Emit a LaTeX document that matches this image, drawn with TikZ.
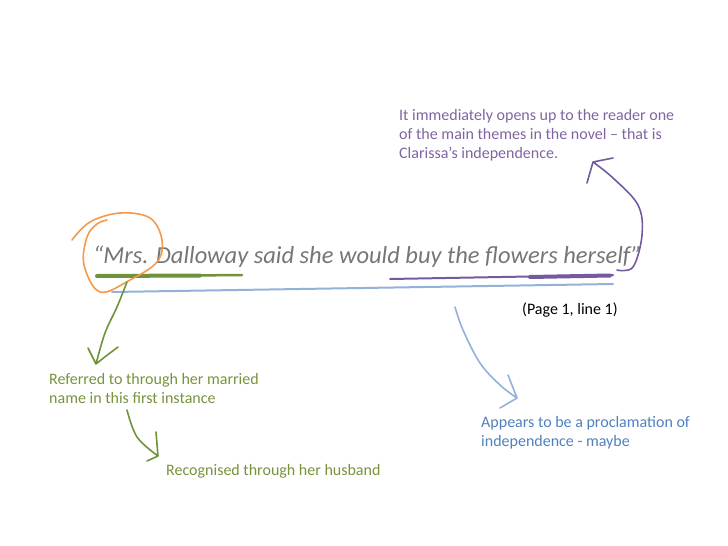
\documentclass[tikz,border=0pt]{standalone}
\usepackage{fontspec}
\setmainfont{Carlito}
\usepackage{xcolor}
\usepackage{tikz}
\definecolor{inkpurple}{RGB}{128,100,162}
\definecolor{penpurple}{RGB}{116,90,160}
\definecolor{inkgreen}{RGB}{119,147,60}
\definecolor{pengreen}{RGB}{112,146,58}
\definecolor{inkblue}{RGB}{79,129,189}
\definecolor{penblue}{RGB}{146,178,218}
\definecolor{penorange}{RGB}{244,154,76}
\definecolor{quotegray}{RGB}{118,118,118}
\tikzset{
  note/.style={
    inner sep=0pt,
    anchor=west,
    align=left,
    font=\fontsize{16}{19.2}\selectfont
  },
  quotetext/.style={
    inner sep=0pt,
    anchor=west,
    font=\fontsize{24.5}{29}\selectfont\itshape,
    text=quotegray
  },
  pen/.style={line width=1.6pt, line cap=round, line join=round},
  marker/.style={line width=4pt, line cap=round}
}

\begin{document}
\begin{tikzpicture}[x=1pt,y=-1pt]
\useasboundingbox (0,0) rectangle (728,546);
% the quotation and its markings
\node[quotetext] (quote) at (93,257) {“Mrs. Dalloway said she would buy the flowers herself”};
\draw[marker, pengreen] (97,276) -- (200,275.5);
\draw[pengreen, line width=2.5pt, line cap=round] (190,275.5) -- (242,275);
\draw[pen, penorange] plot[smooth, tension=0.6] coordinates {(72,240) (90,222) (120,213) (150,218) (162,240) (157,262) (130,280) (100,292) (84,265) (87,237) (97,224) (107,220)};
\draw[pen, penpurple, line width=2pt] (390,279) -- (613,275);
\draw[penpurple, line width=4pt, line cap=round] (530,277) -- (610,275.5);
\draw[pen, penblue, line width=2pt] (112,292) -- (613,284);
% notes
\node[note, text=inkpurple] (theme) at (399,135) {It immediately opens up to the reader one\\of the main themes in the novel -- that is\\Clarissa’s independence.};
\node[note] (page) at (522,310) {(Page 1, line 1)};
\node[note, text=inkgreen] (married) at (49,388.5) {Referred to through her married\\name in this first instance};
\node[note, text=inkgreen] (husband) at (166,471) {Recognised through her husband};
\node[note, text=inkblue] (proclaim) at (481,433) {Appears to be a proclamation of\\independence - maybe};
% hand drawn arrows
\coordinate (ptail) at (617,270);
\coordinate (ptip) at (593,162);
\draw[pen, penpurple] plot[smooth, tension=0.6] coordinates {(ptail) (633,267) (642,235) (638,205) (613,178) (ptip)}
  (ptip) -- (587,183) (ptip) -- (613,158);
\coordinate (gtail) at (127,282);
\coordinate (gtip) at (96,364);
\draw[pen, pengreen] plot[smooth, tension=0.6] coordinates {(gtail) (117,307) (105,333) (gtip)}
  (gtip) -- (88,348) (gtip) -- (106,356) -- (118,347);
\coordinate (htail) at (127,410);
\coordinate (htip) at (158,456);
\draw[pen, pengreen] plot[smooth, tension=0.6] coordinates {(htail) (137,437) (htip)}
  (htip) -- (156,432) (htip) -- (147,461);
\coordinate (btail) at (455,307);
\coordinate (btip) at (517,398);
\draw[pen, penblue] plot[smooth, tension=0.6] coordinates {(btail) (463,330) (480,363) (500,385) (btip)}
  (btip) -- (508,375) (btip) -- (500,408);
\end{tikzpicture}
\end{document}
